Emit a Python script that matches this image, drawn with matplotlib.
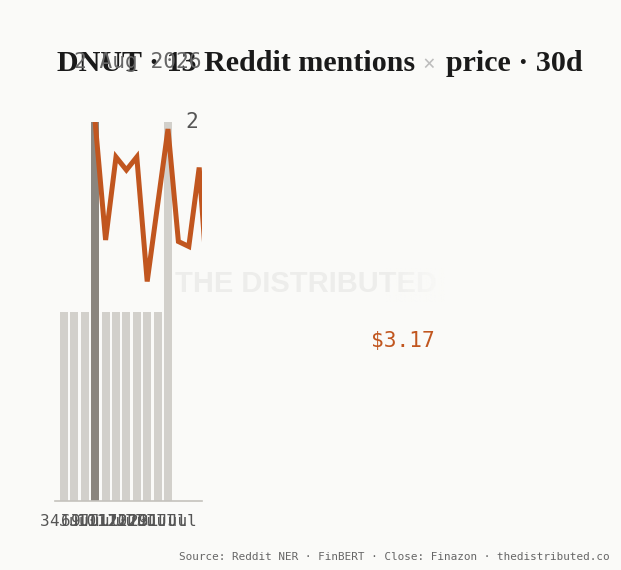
import matplotlib
matplotlib.use("Agg")
import matplotlib.pyplot as plt
import numpy as np

# ---- data ----
day_labels = ["3 Jul", "4 Jul", "6 Jul", "9 Jul", "10 Jul", "11 Jul",
              "17 Jul", "20 Jul", "22 Jul", "29 Jul", "31 Jul"]
mentions = [1, 1, 1, 2, 1, 1, 1, 1, 1, 1, 2]
highlight_idx = 3
price_idx = [3, 4, 5, 6, 7, 8, 9, 10, 11, 12, 13, 14, 15]
prices = [3.607, 3.372, 3.538, 3.512, 3.538, 3.289, 3.442, 3.594,
          3.369, 3.359, 3.517, 3.224, 3.17]
last_price_label = "$3.17"
date_label = "2 Aug 2026"
count_label = "2"

W, H = 621, 570
BG = "#fafaf8"
ORANGE = "#c1561f"
LIGHT_BAR = "#d2d0cb"
DARK_BAR = "#8a857e"
MONO = "DejaVu Sans Mono"

fig = plt.figure(figsize=(W / 100, H / 100), dpi=100, facecolor=BG)

def fx(px):
    return px / W

def fy(py):
    return (H - py) / H

# watermark (behind)
wm = fig.text(fx(175), fy(284), "THE DISTRIBUTED", family="Liberation Sans",
              weight="bold", fontsize=20.9, color="#ededeb", ha="left",
              va="center", zorder=0)
# fade overlay for watermark
fade_ax = fig.add_axes([fx(385), fy(302), fx(445) - fx(385), (302 - 268) / H], zorder=1)
grad = np.zeros((2, 64, 4))
bgc = matplotlib.colors.to_rgb(BG)
grad[..., 0], grad[..., 1], grad[..., 2] = bgc
grad[..., 3] = np.linspace(0, 1, 64)[None, :]
fade_ax.imshow(grad, aspect="auto", extent=(0, 1, 0, 1))
fade_ax.set_axis_off()

# main axes
ax = fig.add_axes([fx(55), (H - 501) / H, 147 / W, 379 / H], zorder=2)
ax.set_facecolor("none")
x = np.arange(len(mentions))
colors = [DARK_BAR if i == highlight_idx else LIGHT_BAR for i in x]
ax.bar(x, mentions, width=0.76, color=colors, zorder=1)
ax.set_ylim(0, 2)
ax.set_xlim(-0.865, 13.27)
for s in ["top", "right", "left"]:
    ax.spines[s].set_visible(False)
ax.spines["bottom"].set_color("#c4c2bd")
ax.spines["bottom"].set_linewidth(1.2)
ax.set_yticks([])
ax.set_xticks(x)
ax.set_xticklabels(day_labels, family=MONO, fontsize=11.5, color="#555555")
ax.tick_params(axis="x", length=0, pad=9)

ax2 = ax.twinx()
ax2.set_ylim(2.85, 3.608)
ax2.plot(price_idx, prices, color=ORANGE, lw=3.6, solid_joinstyle="miter", zorder=3)
ax2.set_yticks([])
for s in ax2.spines.values():
    s.set_visible(False)

# annotations
fig.text(fx(202), fy(62), date_label, family=MONO, fontsize=15.2,
         color="#666666", ha="right", va="center", zorder=6)
fig.text(fx(192), fy(122), count_label, family=MONO, fontsize=15.2,
         color="#555555", ha="center", va="center", zorder=6)
fig.text(fx(403), fy(341), last_price_label, family=MONO, fontsize=15.2,
         color=ORANGE, ha="center", va="center", zorder=6)
fig.text(fx(610), fy(557), "Source: Reddit NER · FinBERT · Close: Finazon · thedistributed.co",
         family=MONO, fontsize=7.9, color="#666666", ha="right", va="center")

# title in three pieces, auto-sized to span 57..583 px
title_parts = [("DNUT · 13 Reddit mentions", "#1a1a1a"), ("×", "#bdbdbd"),
               ("price · 30d", "#1a1a1a")]
renderer = fig.canvas.get_renderer()
TF = "Liberation Serif"

def measure(s, size):
    t = fig.text(0, 0, s, family=TF, weight="bold", fontsize=size)
    w = t.get_window_extent(renderer).width
    t.remove()
    return w

base = 30
space = measure("x x", base) - measure("xx", base)
widths = [measure(p, base) for p, _ in title_parts]
total = sum(widths) + 2 * space
scale = 526 / total
size = base * scale
x0 = 57
cur = x0
for (p, c), w in zip(title_parts, widths):
    fig.text(fx(cur), fy(71), p, family=TF, weight="bold",
             fontsize=size if c != "#bdbdbd" else size * 0.75,
             color=c, ha="left", va="baseline", zorder=5)
    cur += w * scale + space * scale

fig.savefig("out.png", dpi=100, facecolor=BG)
